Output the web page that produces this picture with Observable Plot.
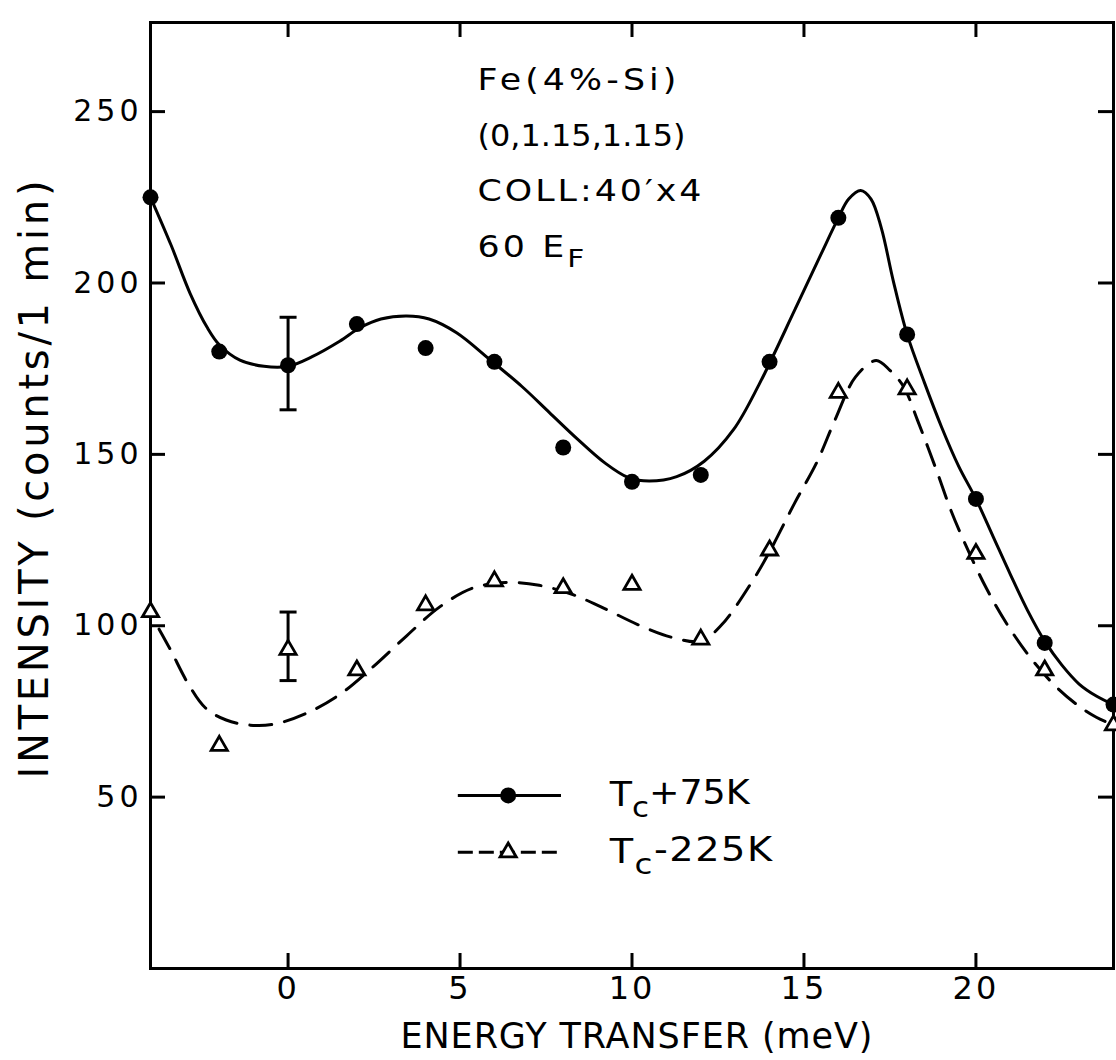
<!DOCTYPE html>
<html>
<head>
<meta charset="utf-8">
<script src="https://cdn.jsdelivr.net/npm/d3@7"></script>
<script src="https://cdn.jsdelivr.net/npm/@observablehq/plot@0.6"></script>
<style>
html,body{margin:0;padding:0;background:#fff;}
#chart{width:1116px;height:1060px;}
</style>
</head>
<body>
<div id="chart"></div>
<script>
// ---------------- data ----------------
const energy = [-4, -2, 0, 2, 4, 6, 8, 10, 12, 14, 16, 18, 20, 22, 24];
const intensityAbove = [225, 180, 176, 188, 181, 177, 152, 142, 144, 177, 219, 185, 137, 95, 77]; // Tc+75K
const intensityBelow = [104, 65, 93, 87, 106, 113, 111, 112, 96, 122, 168, 169, 121, 87, 71];    // Tc-225K

const errorEnergy = [0, 0];
const errorLow = [163, 84];
const errorHigh = [190, 104];

// hand-drawn fitted curves
const fitAboveE = [-4, -3.4, -2.85, -2.35, -2, -1.4, -0.7, 0, 0.7, 1.5, 2.1, 2.7, 3.45, 4.1, 4.9, 5.85, 6.8, 7.6, 8.4, 9.2, 9.9, 10.5, 11.3, 12.1, 12.95, 13.7, 14.75, 15.5, 16, 16.3, 16.65, 16.95, 17.25, 17.6, 18, 18.5, 19, 19.5, 20, 20.5, 21, 21.5, 22, 22.5, 23, 23.5, 24];
const fitAboveI = [225, 211, 197, 187, 182, 177.5, 175.7, 175.7, 178.5, 183, 187, 189.5, 190.4, 189.5, 185.5, 177.8, 169.8, 162.2, 154.6, 147.6, 143.2, 142.2, 143.5, 148, 157.2, 170.5, 192.5, 208.5, 219, 224.5, 227, 224.5, 216, 200.5, 185, 171, 158, 146.5, 137, 126, 115, 104.5, 95.5, 88.5, 83, 79.5, 77];
const fitBelowE = [-3.75, -3.42, -2.9, -2.4, -1.8, -1.1, -0.4, 0.54, 1.51, 2.47, 3.44, 4.41, 5.37, 6.34, 7.3, 8.3, 9.1, 10.2, 11.2, 12, 12.6, 13.5, 14, 14.74, 15.37, 15.9, 16.5, 17.1, 17.5, 17.9, 18.3, 18.84, 19.26, 19.7, 20.3, 20.9, 21.6, 22.3, 23, 23.5, 24];
const fitBelowI = [99, 93, 83, 76, 72.5, 71, 71.3, 74.5, 80, 88, 97, 105.5, 111, 112.6, 111.8, 109, 105.5, 100.2, 96.5, 95.5, 100.2, 113, 121.6, 136, 147.6, 160, 172.6, 177.4, 174.5, 169.7, 160, 145.7, 134, 123.6, 111, 100.5, 90.5, 82.5, 76.5, 73.3, 71];

const xTicks = [0, 5, 10, 15, 20];
const yTicks = [50, 100, 150, 200, 250];
const xLabel = "ENERGY TRANSFER (meV)";
const yLabel = "INTENSITY (counts/1 min)";
const notes = ["Fe(4%-Si)", "(0,1.15,1.15)", "COLL:40′x4", "60 E_F"];
const seriesNames = ["T_c+75K", "T_c-225K"];

// ---------------- layout / style ----------------
const W = 1116, H = 1060;
const M = {left: 150, right: 3, top: 22, bottom: 92};
const frameW = W - M.left - M.right, frameH = H - M.top - M.bottom;
const FONT = "'DejaVu Sans', 'Noto Sans', sans-serif";
const legendPos = {x1: 4.95, x2: 7.95, xMark: 6.4, xText: 9.35, y: [50.5, 33.9]};
const noteLayout = {dx: 327, dy0: 58, step: 55.5};
// target rendered widths (px) of the wide hand lettering
const spacedWidths = new Map([[xLabel, 472], [yLabel, 598]]);
const widenedWidths = new Map([
  ["Fe(4%-Si)", 203], ["(0,1.15,1.15)", 208], ["COLL:40′x4", 227], ["60 E_F", 110],
  ["T_c+75K", 140], ["T_c-225K", 164]
]);

// ---------------- tables ----------------
const pts = energy.map((e, i) => ({e, above: intensityAbove[i], below: intensityBelow[i]}));
const fitAbove = fitAboveE.map((e, i) => ({e, v: fitAboveI[i]}));
const fitBelow = fitBelowE.map((e, i) => ({e, v: fitBelowI[i]}));
const errs = errorEnergy.map((e, i) => ({e, lo: errorLow[i], hi: errorHigh[i]}));
const errCaps = errs.flatMap(d => [{e: d.e, v: d.lo}, {e: d.e, v: d.hi}]);
const legendRows = seriesNames.map((name, i) => ({name, y: legendPos.y[i], i}));

const capSymbol = {
  draw(ctx, size) {
    const r = Math.sqrt(size / Math.PI);
    ctx.moveTo(-r, 0);
    ctx.lineTo(r, 0);
  }
};

const tickLen = 15;

const plot = Plot.plot({
  width: W, height: H,
  marginLeft: M.left, marginRight: M.right, marginTop: M.top, marginBottom: M.bottom,
  x: {domain: [-4, 24], axis: null},
  y: {domain: [0, 276], axis: null},
  style: {background: "white", color: "black", fontFamily: FONT},
  marks: [
    // inward ticks on all four sides
    Plot.ruleX(xTicks, {x: d => d, insetBottom: frameH - tickLen, strokeWidth: 3}),
    Plot.ruleX(xTicks, {x: d => d, insetTop: frameH - tickLen, strokeWidth: 3}),
    Plot.ruleY(yTicks, {y: d => d, insetRight: frameW - tickLen, strokeWidth: 3}),
    Plot.ruleY(yTicks, {y: d => d, insetLeft: frameW - tickLen, strokeWidth: 3}),
    Plot.frame({strokeWidth: 3}),
    // tick labels
    Plot.axisX(xTicks, {anchor: "bottom", tickSize: 0, tickPadding: 8, fontSize: 32, label: null}),
    Plot.axisY(yTicks, {anchor: "left", tickSize: 0, tickPadding: 8, fontSize: 30, label: null}),
    // axis titles (start-anchored so the spaced lettering lands in place)
    Plot.text([xLabel], {frameAnchor: "bottom-left", dx: 250, dy: 68, fontSize: 35, lineAnchor: "middle", textAnchor: "start"}),
    Plot.text([yLabel], {frameAnchor: "left", dx: -115, dy: 283, rotate: -90, fontSize: 40, lineAnchor: "middle", textAnchor: "start"}),
    // fitted curves
    Plot.line(fitAbove, {x: "e", y: "v", curve: "catmull-rom", strokeWidth: 3}),
    Plot.line(fitBelow, {x: "e", y: "v", curve: "catmull-rom", strokeWidth: 3, strokeDasharray: "22,13"}),
    // error bars
    Plot.ruleX(errs, {x: "e", y1: "lo", y2: "hi", strokeWidth: 3}),
    Plot.dot(errCaps, {x: "e", y: "v", symbol: capSymbol, r: 8.5, stroke: "black", strokeWidth: 3, fill: "none"}),
    // data points
    Plot.dot(pts, {x: "e", y: "above", r: 8, fill: "black", stroke: "none"}),
    Plot.dot(pts, {x: "e", y: "below", symbol: "triangle", r: 6, fill: "white", stroke: "black", strokeWidth: 2.8}),
    // annotation block
    ...notes.map((n, i) => Plot.text([n], {frameAnchor: "top-left", dx: noteLayout.dx, dy: noteLayout.dy0 + i * noteLayout.step, lineAnchor: "middle", textAnchor: "start", fontSize: 30})),
    // legend
    Plot.ruleY(legendRows.filter(d => d.i === 0), {y: "y", x1: legendPos.x1, x2: legendPos.x2, strokeWidth: 3}),
    Plot.ruleY(legendRows.filter(d => d.i === 1), {y: "y", x1: legendPos.x1, x2: legendPos.x2, strokeWidth: 3, strokeDasharray: "15,6"}),
    Plot.dot(legendRows.filter(d => d.i === 0), {x: legendPos.xMark, y: "y", r: 8, fill: "black"}),
    Plot.dot(legendRows.filter(d => d.i === 1), {x: legendPos.xMark, y: "y", symbol: "triangle", r: 6, fill: "white", stroke: "black", strokeWidth: 2.8}),
    Plot.text(legendRows, {x: legendPos.xText, y: "y", text: "name", textAnchor: "start", fontSize: 33})
  ]
});

const svg = d3.select(plot);
const widenTargets = [];

// tag texts by their original content (before subscript processing)
svg.selectAll("text").each(function () {
  if (this.querySelector("tspan")) return;
  const t = this.textContent;
  if (spacedWidths.has(t)) this.setAttribute("textLength", spacedWidths.get(t));
  if (widenedWidths.has(t)) widenTargets.push([this, widenedWidths.get(t)]);
});

// subscripts: "A_bC" -> A, subscript b, C
svg.selectAll("text").each(function () {
  if (this.querySelector("tspan")) return;
  const t = this.textContent;
  const m = t.match(/^(.*)_(\w)(.*)$/);
  if (!m) return;
  this.textContent = "";
  const sel = d3.select(this);
  sel.append("tspan").text(m[1]);
  sel.append("tspan").attr("dy", "0.4em").attr("font-size", "0.85em").text(m[2]);
  if (m[3]) sel.append("tspan").attr("dy", "-0.4em").text(m[3]);
});

// wider tick lettering
const yTickSet = new Set(yTicks.map(String));
const xTickSet = new Set(xTicks.map(String));
svg.selectAll('g[aria-label="y-axis tick label"] text').filter(function () { return yTickSet.has(this.textContent); }).style("letter-spacing", "4px");
svg.selectAll('g[aria-label="x-axis tick label"] text').filter(function () { return xTickSet.has(this.textContent); }).style("letter-spacing", "3px");

document.getElementById("chart").appendChild(plot);

// wide lettering: part glyph stretch, part extra spacing (via textLength + spacingAndGlyphs)
const glyphStretch = 1.16;
for (const [el, target] of widenTargets) {
  const L = el.getComputedTextLength();
  const n = el.textContent.length;
  const s = Math.min(glyphStretch, target / L);
  const ls = Math.max(0, (target / s - L) / n);
  el.style.letterSpacing = ls + "px";
  el.setAttribute("lengthAdjust", "spacingAndGlyphs");
  el.setAttribute("textLength", target);
}
</script>
</body>
</html>
